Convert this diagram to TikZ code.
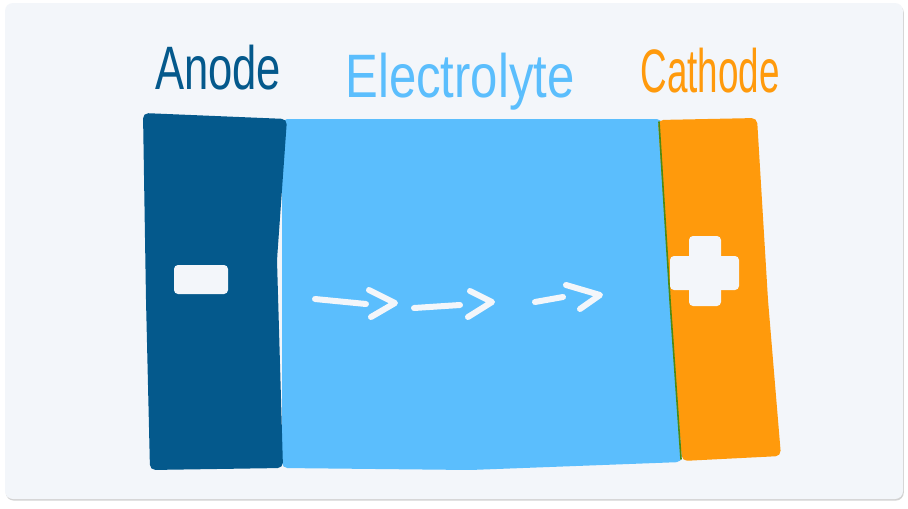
\documentclass[tikz,border=0pt]{standalone}
\usepackage{fontspec}
\setmainfont{Liberation Sans}
\usetikzlibrary{shadows, positioning}

\definecolor{anodeblue}{HTML}{04598C}
\definecolor{elecblue}{HTML}{5BBEFD}
\definecolor{cathorange}{HTML}{FF9A0C}
\definecolor{cardgray}{HTML}{F3F6FA}
\definecolor{edgegreen}{HTML}{4E8A12}

\begin{document}
\begin{tikzpicture}[
    x=0.75pt, y=-0.75pt,
    card/.style={fill=cardgray, rounded corners=6pt, drop shadow={shadow xshift=0.6pt, shadow yshift=-1.2pt, opacity=0.35}},
    slab/.style={rounded corners=4pt, line join=round},
    label/.style={font=\fontsize{46}{46}\selectfont},
    sign/.style={fill=cardgray, rounded corners=3pt},
    flow/.style={draw=cardgray, line width=4.5pt, line cap=round, line join=round}
]
    % frame
    \useasboundingbox (0,0) rectangle (908,508);
    \fill[white] (0,0) rectangle (908,508);
    \path[card] (5,3) rectangle (903,499);

    % slabs
    \fill[slab, elecblue] (282,119) -- (662,119) -- (672,300) -- (682,462) -- (470,470) -- (282,468) -- cycle;
    \fill[slab, anodeblue] (143,113) -- (287,119) -- (277,260) -- (283,468) -- (150,470) -- (146,300) -- cycle;
    \fill[slab, cathorange] (658,120) -- (757,118) -- (768,300) -- (781,456) -- (682,461) -- (670,300) -- cycle;
    \draw[edgegreen, line width=1.2pt, line cap=round] (659,122) -- (670,300) -- (681,459);

    % signs
    \fill[sign] (174,265) rectangle (228,294);
    \fill[sign] (689,236) rectangle (721,306);
    \fill[sign] (670,256) rectangle (739,290);

    % labels
    \node[label, text=anodeblue, xscale=0.71] (anode) at (218,68) {Anode};
    \node[label, text=elecblue, xscale=0.8] (electrolyte) at (460,82) {Electrolyte};
    \node[label, text=cathorange, xscale=0.6] (cathode) at (710,71) {Cathode};

    % ion flow
    \draw[flow] (315,299) -- (366,304);
    \draw[flow] (369,290) -- (395,303) -- (371,317);
    \draw[flow] (414,308) -- (460,305);
    \draw[flow] (470,291) -- (492,302) -- (468,317);
    \draw[flow] (535,302) -- (563,297);
    \draw[flow] (566,285) -- (600,295) -- (580,309);
\end{tikzpicture}
\end{document}
